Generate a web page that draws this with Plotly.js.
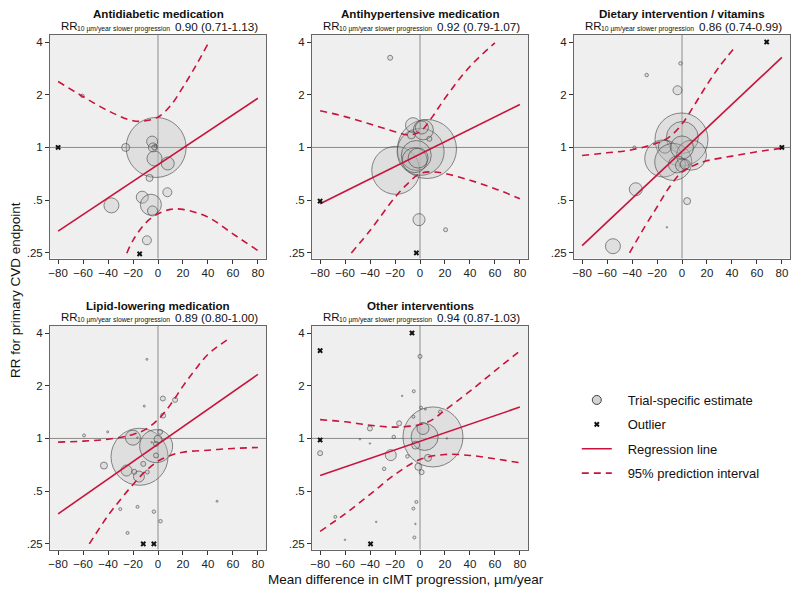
<!DOCTYPE html>
<html><head><meta charset="utf-8">
<script src="https://cdn.plot.ly/plotly-3.0.1.min.js"></script>
<style>html,body{margin:0;padding:0;background:#fff}#chart{width:800px;height:600px}</style>
</head><body><div id="chart"></div>
<script>
// ---------- labels ----------
const panelTitles = ['Antidiabetic medication','Antihypertensive medication','Dietary intervention / vitamins','Lipid-lowering medication','Other interventions'];
const rrLabel = 'RR';
const rrSub = '10 µm/year slower progression';
const rrValues = ['0.90 (0.71-1.13)','0.92 (0.79-1.07)','0.86 (0.74-0.99)','0.89 (0.80-1.00)','0.94 (0.87-1.03)'];
const xTicks = [-80,-60,-40,-20,0,20,40,60,80];
const yTicks = [0.25,0.5,1,2,4];
const yTickText = ['.25','.5','1','2','4'];
const legendNames = ['Trial-specific estimate','Outlier','Regression line','95% prediction interval'];
const regX = [-80, 80];

// ---------- Panel 1: Antidiabetic ----------
const p1X = [-1.5,-60.6,-25.9,-4.7,-4.1,-3,-2,-2.8,7.8,-6.8,7.5,-12.6,-37.3,-5.7,-4.4,-8.9];
const p1Y = [1.0,1.97,1.0,1.08,1.0,1.0,1.02,0.865,0.81,0.67,0.555,0.52,0.467,0.471,0.434,0.295];
const p1S = [60,3.5,8,11,9,5,3,15,13,7,9,12,15,21,10,9];
const p1OutX = [-80,-14.7];
const p1OutY = [1.0,0.247];
const p1RegY = [0.333,1.91];
const p1UpX = [-80,-60,-40,-20,-10,0,10,20,30,40];
const p1UpY = [2.38,1.95,1.62,1.42,1.42,1.49,1.73,2.21,2.90,3.90];
const p1LoX = [-25,-20,-10,0,10,20,40,60,80];
const p1LoY = [0.249,0.295,0.37,0.418,0.443,0.443,0.40,0.321,0.258];

// ---------- Panel 2: Antihypertensive ----------
const p2X = [5.6,-19.4,0.5,-3,-4.3,-1.5,-5.6,2.7,1.5,-6.9,7.5,-23.9,-0.8,20.5];
const p2Y = [0.98,0.74,0.944,0.90,0.846,0.87,1.34,1.26,1.30,1.18,1.12,3.25,0.387,0.339];
const p2S = [59,48,47,30,25,20,15,20,13,8,5,5,12,4];
const p2OutX = [-80,-2.9];
const p2OutY = [0.494,0.25];
const p2RegY = [0.477,1.76];
const p2UpX = [-80,-60,-40,-20,-10,0,10,20,40,60];
const p2UpY = [1.62,1.50,1.36,1.23,1.18,1.23,1.50,1.91,2.90,3.95];
const p2LoX = [-55,-40,-20,-10,0,10,20,40,60,80];
const p2LoY = [0.25,0.336,0.52,0.62,0.71,0.725,0.71,0.65,0.582,0.51];

// ---------- Panel 3: Dietary intervention / vitamins ----------
const p3X = [-0.4,0.3,-15,-13.7,-7,7.6,0,-4,0,2.5,-1.2,-28.3,-3.6,-37,4.1,-55.3,-38.1,-12.1];
const p3Y = [1.11,1.14,0.865,1.01,0.827,0.904,1.0,0.80,0.79,0.80,3.02,2.59,2.12,0.577,0.494,0.273,1.0,0.35];
const p3S = [53,32,37,13,37,30,23,17,13,10,3.5,3.5,9,13,7,15,3,1.5];
const p3OutX = [67.8,80];
const p3OutY = [4.0,1.0];
const p3RegY = [0.275,3.27];
const p3UpX = [-80,-60,-40,-20,-10,0,10,20,30,43];
const p3UpY = [0.90,0.932,0.97,1.06,1.15,1.36,1.75,2.28,2.90,3.78];
const p3LoX = [-42,-30,-20,-10,0,10,20,40,60,80];
const p3LoY = [0.25,0.351,0.457,0.595,0.725,0.792,0.839,0.892,0.944,0.99];

// ---------- Panel 4: Lipid-lowering ----------
const p4X = [-14.8,-1.5,-20.1,0,1.7,-1.6,-1.6,-43.3,-25.2,-15.3,-19.0,-11.8,-8.6,4.1,3.9,13.7,-59.2,-40.3,-11.0,-8.9,-30.2,-16.4,-3.3,2.0,-24.4,47.3,-16.5,-5];
const p4Y = [0.786,0.904,1.01,0.99,1.09,0.93,0.80,0.70,0.656,0.606,0.645,0.716,0.643,1.35,1.69,1.66,1.04,1.09,1.53,2.83,0.395,0.407,0.382,0.337,0.289,0.438,1.01,0.95];
const p4S = [57,33,15,8,5,5,5,7,11,11,5,5,4,5,5,5,3,2,2,2,3,3,3.5,3.5,3,2,1.5,1.5];
const p4OutX = [-11.8,-3.3];
const p4OutY = [0.25,0.25];
const p4RegY = [0.371,2.32];
const p4UpX = [-80,-60,-40,-20,-10,0,10,20,30,40,58];
const p4UpY = [0.953,0.965,0.99,1.054,1.126,1.28,1.56,1.99,2.48,3.02,3.76];
const p4LoX = [-55,-40,-30,-20,-10,0,10,20,40,60,80];
const p4LoY = [0.25,0.363,0.448,0.546,0.65,0.742,0.80,0.835,0.857,0.877,0.888];

// ---------- Panel 5: Other interventions ----------
const p5X = [10.4,3.7,2.4,-3.5,6.4,-1.3,1.3,-23.4,-16.7,-40.1,-80,-21,-10.1,-28.7,0,-5.0,-14.3,0.8,4.3,16.2,-5.3,-48.1,-40.1,21.5,-2.9,-5.3,-3.7,-35.1,-67.8,-60.1,-4.5];
const p5Y = [1.02,1.02,1.14,0.916,0.775,0.689,0.642,0.803,1.22,1.14,0.824,1.02,0.79,0.671,2.94,1.86,1.75,1.50,1.47,1.42,1.33,0.99,0.936,1.0,0.434,0.398,0.325,0.334,0.357,0.264,0.272];
const p5S = [60,27,12,8,7,7,5,11,5,5,5,3.5,3.5,3.5,4,3,1.5,3,2,3.5,3,1.5,1.5,1.5,3,3,1.5,1.5,3,1.5,3];
const p5OutX = [-80,-6.4,-80,-39.6];
const p5OutY = [3.17,4.0,0.98,0.25];
const p5RegY = [0.614,1.51];
const p5UpX = [-80,-60,-40,-20,0,10,20,40,60,80];
const p5UpY = [1.28,1.245,1.19,1.16,1.20,1.28,1.45,1.86,2.43,3.16];
const p5LoX = [-80,-60,-40,-20,0,20,40,60,80];
const p5LoY = [0.295,0.371,0.479,0.623,0.759,0.81,0.80,0.765,0.726];

const panels = [
  {x:p1X,y:p1Y,s:p1S,ox:p1OutX,oy:p1OutY,ry:p1RegY,ux:p1UpX,uy:p1UpY,lx:p1LoX,ly:p1LoY},
  {x:p2X,y:p2Y,s:p2S,ox:p2OutX,oy:p2OutY,ry:p2RegY,ux:p2UpX,uy:p2UpY,lx:p2LoX,ly:p2LoY},
  {x:p3X,y:p3Y,s:p3S,ox:p3OutX,oy:p3OutY,ry:p3RegY,ux:p3UpX,uy:p3UpY,lx:p3LoX,ly:p3LoY},
  {x:p4X,y:p4Y,s:p4S,ox:p4OutX,oy:p4OutY,ry:p4RegY,ux:p4UpX,uy:p4UpY,lx:p4LoX,ly:p4LoY},
  {x:p5X,y:p5Y,s:p5S,ox:p5OutX,oy:p5OutY,ry:p5RegY,ux:p5UpX,uy:p5UpY,lx:p5LoX,ly:p5LoY}
];

// ---------- layout geometry (pixels) ----------
const W = 800, H = 600;
const cols = [[50,266],[312,528],[574,790]];
const rows = [[35,258.5],[326,549.5]];
const cell = [[0,0],[1,0],[2,0],[0,1],[1,1]];
const RED = '#c8143c';
const FONT = 'Liberation Sans, Arial, sans-serif';
const BUBBLE_FILL = 'rgba(185,185,185,0.42)';
const BUBBLE_LINE = '#444';
const DASH = '7px,5px';
const NB = '\u00a0\u00a0\u00a0';

const traces = [];
const layout = {
  width: W, height: H,
  margin: {l:0,r:0,t:0,b:0},
  paper_bgcolor: '#ffffff',
  plot_bgcolor: '#efefef',
  font: {family: FONT, color: '#222', size: 12},
  showlegend: true,
  legend: {x: 0.721, y: 1-385/H, xanchor:'left', yanchor:'top', font:{size:13, family:FONT, color:'#111'},
           bgcolor:'rgba(0,0,0,0)', tracegroupgap: 4.5, itemsizing:'trace', traceorder:'grouped'},
  annotations: [], shapes: []
};

panels.forEach((p, i) => {
  const k = i + 1;
  const xa = 'x' + (k === 1 ? '' : k), ya = 'y' + (k === 1 ? '' : k);
  const [c, r] = cell[i];
  traces.push({type:'scatter', mode:'markers', x:p.x, y:p.y, xaxis:xa, yaxis:ya, showlegend:false,
    marker:{size:p.s, color:BUBBLE_FILL, line:{color:BUBBLE_LINE, width:0.9}}, hoverinfo:'skip'});
  traces.push({type:'scatter', mode:'lines', x:p.ux, y:p.uy, xaxis:xa, yaxis:ya, showlegend:false,
    line:{color:RED, width:1.6, dash:DASH, shape:'spline'}, hoverinfo:'skip'});
  traces.push({type:'scatter', mode:'lines', x:p.lx, y:p.ly, xaxis:xa, yaxis:ya, showlegend:false,
    line:{color:RED, width:1.6, dash:DASH, shape:'spline'}, hoverinfo:'skip'});
  traces.push({type:'scatter', mode:'lines', x:regX, y:p.ry, xaxis:xa, yaxis:ya, showlegend:false,
    line:{color:RED, width:1.6}, hoverinfo:'skip'});
  traces.push({type:'scatter', mode:'markers', x:p.ox, y:p.oy, xaxis:xa, yaxis:ya, showlegend:false,
    marker:{symbol:'x', size:5, color:'#111', line:{width:0}}, hoverinfo:'skip'});

  const xd = [cols[c][0]/W, cols[c][1]/W];
  const yd = [1 - rows[r][1]/H, 1 - rows[r][0]/H];
  layout['xaxis' + (k === 1 ? '' : k)] = {
    domain: xd, anchor: ya, range: [-86.5, 86.5], tickvals: xTicks,
    ticks:'outside', ticklen:4, tickcolor:'#333', tickfont:{size:11.5, color:'#222'},
    showline:true, mirror:true, linecolor:'#666', linewidth:1, showgrid:false, zeroline:false, fixedrange:true
  };
  layout['yaxis' + (k === 1 ? '' : k)] = {
    domain: yd, anchor: xa, type:'log', range: [-0.634, 0.642], tickvals: yTicks, ticktext: yTickText,
    ticks:'outside', ticklen:4, tickcolor:'#333', tickfont:{size:11.5, color:'#222'},
    showline:true, mirror:true, linecolor:'#666', linewidth:1, showgrid:false, zeroline:false, fixedrange:true
  };
  layout.shapes.push({type:'line', layer:'below', xref:xa, yref:ya + ' domain', x0:0, x1:0, y0:0, y1:1,
    line:{color:'#8c8c8c', width:1}});
  layout.shapes.push({type:'line', layer:'below', xref:xa + ' domain', yref:ya, x0:0, x1:1, y0:1, y1:1,
    line:{color:'#8c8c8c', width:1}});
  const cx = (cols[c][0] + cols[c][1]) / 2 / W;
  const top = rows[r][0];
  layout.annotations.push({xref:'paper', yref:'paper', x:cx, y:1 - (top - 21)/H, xanchor:'center', yanchor:'middle',
    text:'<b>' + panelTitles[i] + '</b>', showarrow:false, font:{size:11.6, color:'#111', family:FONT}});
  const sy = 1 - (top - 9)/H;
  layout.annotations.push({xref:'paper', yref:'paper', x:cx, y:sy, xshift:-98, xanchor:'left', yanchor:'middle',
    text:rrLabel, showarrow:false, borderpad:0, font:{size:11.5, color:'#111', family:FONT}});
  layout.annotations.push({xref:'paper', yref:'paper', x:cx, y:sy, xshift:-82, yshift:-3, xanchor:'left', yanchor:'middle',
    text:rrSub, showarrow:false, borderpad:0, font:{size:6.8, color:'#111', family:FONT}});
  layout.annotations.push({xref:'paper', yref:'paper', x:cx, y:sy, xshift:16, xanchor:'left', yanchor:'middle',
    text:rrValues[i], showarrow:false, borderpad:0, font:{size:11.7, color:'#111', family:FONT}});
});

// legend-only entries (no data points)
traces.push({type:'scatter', mode:'markers', x:[null], y:[null], name:NB + legendNames[0], legendgroup:'a',
  marker:{size:9, color:'rgba(200,200,200,0.8)', line:{color:BUBBLE_LINE, width:1}}});
traces.push({type:'scatter', mode:'markers', x:[null], y:[null], name:NB + legendNames[1], legendgroup:'b',
  marker:{symbol:'x', size:5, color:'#111', line:{width:0}}});
traces.push({type:'scatter', mode:'lines', x:[null], y:[null], name:NB + legendNames[2], legendgroup:'c',
  line:{color:RED, width:1.6}});
traces.push({type:'scatter', mode:'lines', x:[null], y:[null], name:NB + legendNames[3], legendgroup:'d',
  line:{color:RED, width:1.6, dash:DASH}});

layout.annotations.push({xref:'paper', yref:'paper', x:15/W, y:1 - 290/H, xanchor:'center', yanchor:'middle',
  text:'RR for primary CVD endpoint', textangle:-90, showarrow:false, font:{size:13.5, color:'#111', family:FONT}});
layout.annotations.push({xref:'paper', yref:'paper', x:406/W, y:1 - 579/H, xanchor:'center', yanchor:'middle',
  text:'Mean difference in cIMT progression, µm/year', showarrow:false, font:{size:13.5, color:'#111', family:FONT}});

Plotly.newPlot('chart', traces, layout, {displayModeBar:false, staticPlot:true});
</script>
</body></html>
